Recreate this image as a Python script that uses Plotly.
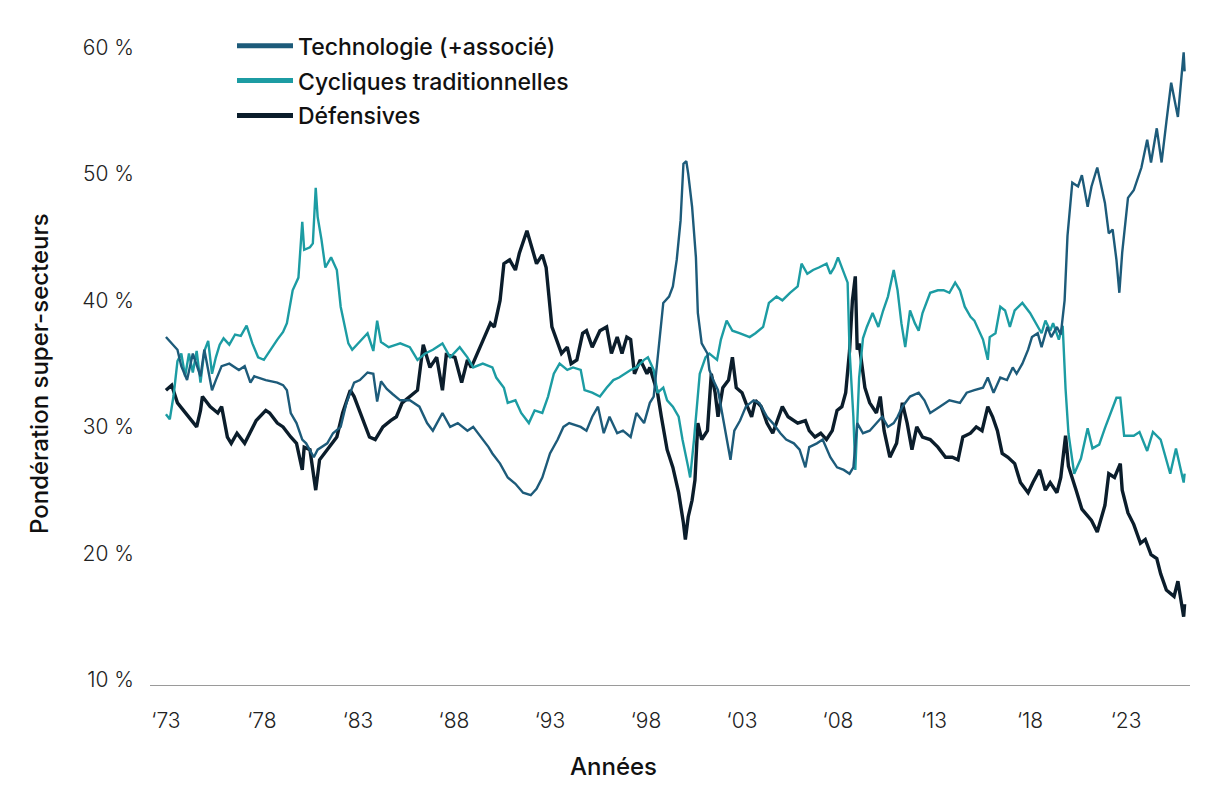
import plotly.graph_objects as go

# ---------------- data ----------------
tech_years = [1973.0,1973.3,1973.6,1973.8,1974.1,1974.4,1974.8,1975.0,1975.4,1975.6,1975.9,1976.3,1976.8,1977.1,1977.4,1977.6,1978.2,1978.8,1979.1,1979.3,1979.5,1979.8,1980.1,1980.3,1980.7,1980.9,1981.4,1981.7,1982.1,1982.4,1982.8,1983.1,1983.5,1983.8,1984.0,1984.2,1984.5,1984.8,1985.2,1985.7,1986.2,1986.6,1986.9,1987.4,1987.8,1988.2,1988.7,1989.0,1989.5,1989.8,1990.0,1990.4,1990.8,1991.2,1991.6,1992.0,1992.3,1992.6,1993.0,1993.4,1993.7,1994.0,1994.6,1994.9,1995.2,1995.5,1995.8,1996.1,1996.5,1996.8,1997.2,1997.5,1997.9,1998.2,1998.4,1998.7,1998.9,1999.2,1999.4,1999.6,1999.8,1999.95,2000.1,2000.2,2000.4,2000.6,2000.7,2000.9,2001.2,2001.3,2001.5,2001.75,2002.0,2002.4,2002.6,2002.9,2003.2,2003.6,2003.9,2004.3,2004.6,2005.0,2005.3,2005.7,2006.0,2006.3,2006.5,2006.9,2007.2,2007.6,2007.95,2008.3,2008.6,2008.8,2009.0,2009.3,2009.65,2010.0,2010.3,2010.6,2010.9,2011.1,2011.35,2011.75,2012.2,2012.5,2012.8,2013.3,2013.8,2014.35,2014.7,2015.1,2015.55,2015.8,2016.1,2016.45,2016.8,2017.1,2017.3,2017.6,2017.9,2018.1,2018.4,2018.6,2018.9,2019.1,2019.4,2019.6,2019.8,2019.95,2020.2,2020.5,2020.7,2021.0,2021.2,2021.5,2021.9,2022.1,2022.3,2022.5,2022.65,2022.8,2023.1,2023.4,2023.8,2024.1,2024.3,2024.6,2024.85,2025.1,2025.35,2025.7,2026.0,2026.05]
tech_values = [37.1,36.6,36.1,34.8,33.7,35.8,34.0,36.1,32.9,33.7,34.8,35.0,34.5,34.8,33.5,34.0,33.7,33.5,33.3,32.9,31.1,30.3,29.0,28.7,27.6,28.2,28.7,29.5,30.0,31.9,33.5,33.7,34.3,34.2,32.0,33.6,33.0,32.6,32.1,32.1,31.6,30.3,29.7,31.1,30.0,30.3,29.7,30.0,29.0,28.4,27.9,27.1,26.0,25.5,24.8,24.6,25.1,26.0,27.9,29.0,30.0,30.3,30.0,29.7,30.8,31.6,29.5,30.8,29.5,29.7,29.2,31.1,30.3,31.9,32.4,36.9,39.8,40.3,41.1,43.2,46.3,50.8,51.0,50.0,47.4,43.4,39.0,36.6,35.8,34.5,33.7,32.9,30.8,27.4,29.7,30.5,31.6,32.1,31.9,30.8,30.3,29.5,29.0,28.7,28.2,26.8,28.4,28.7,29.0,27.6,26.8,26.6,26.3,26.8,30.3,29.5,29.7,30.3,30.8,30.0,30.3,30.8,31.6,32.4,32.7,32.1,31.1,31.6,32.1,31.9,32.7,32.9,33.1,33.9,32.7,33.9,33.7,34.7,34.2,35.0,36.1,37.1,37.4,36.3,37.9,37.1,37.9,37.3,40.0,45.1,49.3,49.0,49.9,47.4,49.0,50.5,47.7,45.3,45.6,43.2,40.6,43.8,48.1,48.7,50.5,52.7,50.9,53.6,50.9,54.1,57.2,54.5,59.6,58.1]

cyc_years = [1973.0,1973.2,1973.4,1973.6,1973.8,1974.0,1974.2,1974.4,1974.6,1974.8,1975.0,1975.2,1975.4,1975.6,1975.8,1976.0,1976.3,1976.6,1976.9,1977.2,1977.5,1977.8,1978.1,1978.4,1978.8,1979.1,1979.3,1979.6,1979.9,1980.1,1980.2,1980.5,1980.65,1980.8,1980.9,1981.1,1981.3,1981.6,1981.9,1982.1,1982.5,1982.7,1983.0,1983.3,1983.5,1983.8,1984.0,1984.2,1984.6,1985.0,1985.2,1985.7,1986.1,1986.5,1986.9,1987.4,1987.8,1988.3,1988.7,1989.0,1989.5,1990.0,1990.2,1990.6,1990.8,1991.2,1991.5,1991.9,1992.2,1992.6,1992.9,1993.2,1993.5,1993.9,1994.2,1994.6,1994.8,1995.2,1995.6,1995.95,1996.3,1996.6,1997.2,1997.5,1997.9,1998.1,1998.4,1998.6,1998.9,1999.1,1999.4,1999.7,1999.9,2000.2,2000.3,2000.5,2000.7,2000.8,2001.1,2001.3,2001.7,2001.9,2002.2,2002.5,2002.9,2003.4,2003.7,2004.1,2004.4,2004.8,2005.1,2005.5,2005.9,2006.1,2006.4,2006.7,2007.0,2007.4,2007.6,2007.8,2008.0,2008.3,2008.5,2008.6,2008.8,2008.9,2009.1,2009.3,2009.5,2009.8,2010.1,2010.35,2010.6,2010.9,2011.1,2011.3,2011.5,2011.75,2012.0,2012.2,2012.4,2012.8,2013.2,2013.5,2013.8,2014.1,2014.35,2014.6,2014.9,2015.1,2015.4,2015.55,2015.8,2015.9,2016.2,2016.45,2016.7,2016.95,2017.2,2017.6,2018.0,2018.3,2018.6,2018.8,2019.05,2019.2,2019.5,2019.7,2019.85,2020.0,2020.3,2020.65,2021.0,2021.25,2021.6,2021.9,2022.2,2022.5,2022.7,2022.9,2023.4,2023.7,2024.1,2024.4,2024.8,2025.3,2025.6,2026.0,2026.05]
cyc_values = [31.0,30.6,32.5,35.2,35.8,34.0,35.8,34.3,36.0,33.5,36.0,36.8,34.2,35.5,36.5,37.0,36.5,37.3,37.2,38.0,36.6,35.5,35.3,36.0,36.9,37.5,38.2,40.8,41.8,46.2,44.0,44.2,44.5,48.9,46.6,44.8,42.6,43.4,42.4,39.5,36.6,36.1,36.6,37.1,37.4,36.0,38.4,36.7,36.3,36.5,36.6,36.3,35.3,35.8,36.1,36.6,35.5,36.3,35.5,34.7,35.0,34.7,33.9,33.1,31.9,32.1,31.1,30.3,31.3,31.1,32.4,34.2,35.0,34.5,34.7,34.5,32.9,32.7,32.4,33.1,33.7,33.9,34.5,34.7,35.3,35.5,34.5,32.7,33.1,32.1,31.6,30.8,29.0,26.8,26.0,29.0,32.7,34.2,35.5,35.8,35.3,36.9,38.4,37.6,37.4,37.1,37.4,37.9,39.8,40.3,40.0,40.6,41.1,42.9,42.1,42.4,42.6,42.9,42.1,42.6,43.4,42.1,41.4,36.1,30.8,26.6,33.9,37.0,37.9,39.0,37.9,39.2,40.3,42.4,40.8,38.2,36.3,39.2,38.2,37.6,39.0,40.6,40.8,40.8,40.6,41.4,40.8,39.5,38.7,38.4,37.4,36.9,35.3,37.1,37.4,39.5,39.2,37.9,39.2,39.8,39.0,38.2,37.4,38.4,37.6,38.2,36.9,38.0,33.0,29.5,26.3,27.5,29.9,28.3,28.6,29.9,31.1,32.3,32.3,29.3,29.3,29.6,28.1,29.6,29.0,26.3,28.3,25.6,26.3]

def_years = [1973.0,1973.3,1973.6,1973.9,1974.2,1974.6,1974.8,1974.9,1975.3,1975.7,1975.9,1976.2,1976.4,1976.7,1977.1,1977.7,1978.2,1978.4,1978.8,1979.1,1979.5,1979.8,1980.1,1980.2,1980.5,1980.8,1981.0,1981.4,1981.9,1982.2,1982.6,1982.8,1983.3,1983.6,1983.9,1984.3,1984.7,1985.0,1985.3,1985.7,1986.1,1986.4,1986.75,1987.1,1987.4,1987.6,1988.05,1988.4,1988.7,1988.9,1989.3,1989.6,1989.9,1990.1,1990.4,1990.6,1990.9,1991.2,1991.4,1991.8,1992.1,1992.3,1992.6,1992.8,1993.1,1993.4,1993.6,1993.9,1994.1,1994.4,1994.7,1994.9,1995.2,1995.6,1995.95,1996.2,1996.5,1996.75,1997.0,1997.2,1997.4,1997.7,1998.05,1998.2,1998.4,1998.6,1998.8,1999.1,1999.4,1999.7,1999.95,2000.05,2000.2,2000.4,2000.55,2000.7,2000.9,2001.2,2001.4,2001.6,2001.75,2002.0,2002.3,2002.5,2002.7,2003.0,2003.2,2003.5,2003.7,2004.0,2004.3,2004.6,2005.1,2005.4,2005.9,2006.3,2006.5,2006.8,2007.1,2007.4,2007.7,2007.95,2008.2,2008.4,2008.6,2008.75,2008.9,2009.0,2009.1,2009.4,2009.65,2010.0,2010.2,2010.4,2010.7,2011.05,2011.35,2011.6,2011.85,2012.1,2012.4,2012.8,2013.2,2013.6,2013.95,2014.25,2014.5,2014.9,2015.2,2015.5,2015.8,2016.05,2016.3,2016.55,2016.85,2017.2,2017.5,2017.9,2018.15,2018.5,2018.8,2019.05,2019.4,2019.6,2019.85,2020.0,2020.4,2020.7,2021.2,2021.5,2021.9,2022.1,2022.4,2022.7,2022.8,2023.1,2023.4,2023.75,2024.0,2024.3,2024.6,2024.8,2025.1,2025.5,2025.7,2026.0,2026.05]
def_values = [32.9,33.3,31.9,31.3,30.8,30.0,31.3,32.4,31.6,31.1,31.6,29.2,28.7,29.5,28.7,30.5,31.3,31.1,30.3,30.0,29.2,28.7,26.6,28.4,28.2,25.0,27.4,28.2,29.2,31.1,32.9,32.4,30.3,29.2,29.0,30.0,30.5,30.8,31.9,32.4,32.9,36.5,34.7,35.5,32.9,35.7,35.5,33.5,35.3,34.7,36.1,37.1,38.2,37.9,40.0,42.9,43.2,42.4,43.7,45.5,43.9,42.9,43.6,42.6,37.9,36.6,35.8,36.3,35.0,35.3,37.4,37.6,36.3,37.6,37.9,35.8,37.1,35.8,37.1,36.9,34.2,35.3,34.2,34.7,33.7,32.7,30.8,28.2,26.8,24.8,22.4,21.1,22.9,24.2,25.8,30.3,29.0,29.7,34.2,32.7,30.8,33.1,33.7,35.5,33.1,32.7,31.9,30.8,32.1,31.6,30.3,29.5,31.6,30.8,30.3,30.5,29.7,29.2,29.5,29.0,29.7,31.3,31.6,32.7,36.0,40.0,41.9,36.1,36.6,33.1,31.9,31.1,32.4,29.7,27.6,28.7,31.9,30.3,28.2,30.0,29.2,29.0,28.4,27.6,27.6,27.4,29.2,29.5,30.0,29.7,31.6,30.8,29.7,27.9,27.6,27.1,25.6,24.8,25.6,26.6,25.0,25.6,24.8,26.0,29.3,26.9,25.0,23.5,22.6,21.7,23.8,26.3,26.0,27.1,25.0,23.2,22.3,20.8,21.1,19.9,19.6,18.4,17.1,16.6,17.8,15.0,16.0]

series_names = ["Technologie (+associé)", "Cycliques traditionnelles", "Défensives"]
tick_years = [1973, 1978, 1983, 1988, 1993, 1998, 2003, 2008, 2013, 2018, 2023]
tick_labels = ["\u201873", "\u201878", "\u201883", "\u201888", "\u201893", "\u201898",
               "\u201803", "\u201808", "\u201813", "\u201818", "\u201823"]
y_ticks = [10, 20, 30, 40, 50, 60]
y_labels = ["10 %", "20 %", "30 %", "40 %", "50 %", "60 %"]

# ---------------- styling ----------------
colors = ["#1d5b7a", "#1c9ca3", "#0b1d2b"]
widths = [2.4, 2.4, 3.4]
FONT = "Inter"

fig = go.Figure()
data = [(tech_years, tech_values), (cyc_years, cyc_values), (def_years, def_values)]
# draw order: Défensives first, then Cycliques, then Tech on top
for i in [2, 1, 0]:
    xs, ys = data[i]
    fig.add_trace(go.Scatter(x=xs, y=ys, mode="lines", name=series_names[i],
                             line=dict(color=colors[i], width=widths[i]),
                             showlegend=False, hoverinfo="x+y"))
# legend-only entries with thick swatches
for i in range(3):
    fig.add_trace(go.Scatter(x=[None], y=[None], mode="lines", name=series_names[i],
                             legendgroup="g%d" % i,
                             line=dict(color=colors[i], width=5), showlegend=True))

fig.update_layout(
    width=1213, height=798,
    margin=dict(l=150, r=23, t=41, b=113),
    paper_bgcolor="white", plot_bgcolor="white",
    font=dict(family=FONT, color="#1a1a1a"),
    showlegend=True,
    legend=dict(x=(232 - 150) / 1040, y=1.026, xanchor="left", yanchor="top",
                font=dict(family=FONT, size=23, color="#111111", weight=500),
                bgcolor="rgba(0,0,0,0)", tracegroupgap=2, itemwidth=56),
    xaxis=dict(range=[1972.17, 2026.33], tickmode="array", tickvals=tick_years,
               ticktext=tick_labels, showgrid=False, zeroline=False,
               showline=True, linecolor="#9a9a9a", linewidth=1.2,
               ticks="", ticklabelstandoff=17,
               tickfont=dict(family=FONT, size=21, color="#222222", weight=300)),
    yaxis=dict(range=[9.6, 60.5], tickmode="array", tickvals=y_ticks,
               ticktext=y_labels, showgrid=False, zeroline=False, showline=False,
               ticks="", ticklabelstandoff=15,
               tickfont=dict(family=FONT, size=21, color="#222222", weight=300)),
    annotations=[
        dict(text="Années", xref="paper", yref="paper", x=(613 - 150) / 1040, y=-(766 - 685) / 644,
             xanchor="center", yanchor="middle", showarrow=False,
             font=dict(family=FONT, size=24, color="#111111", weight=500)),
        dict(text="Pondération super-secteurs", xref="paper", yref="paper",
             x=-(150 - 40) / 1040, y=(685 - 374) / 644, textangle=-90,
             xanchor="center", yanchor="middle", showarrow=False,
             font=dict(family=FONT, size=24, color="#111111", weight=500)),
    ],
)

fig.write_html("out.html")
